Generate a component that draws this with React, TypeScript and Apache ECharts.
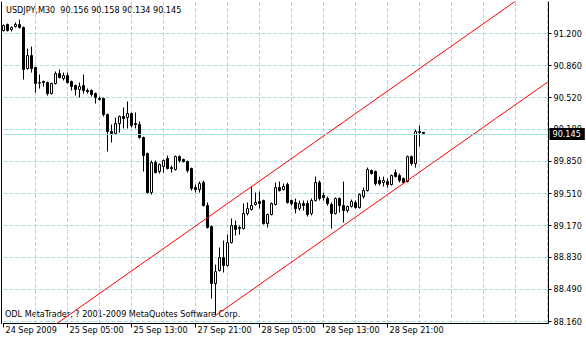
import React, { useEffect, useRef } from 'react';
import * as echarts from 'echarts';

const symbolName = 'USDJPY,M30';
const copyrightText = 'ODL MetaTrader, ? 2001-2009 MetaQuotes Software Corp.';

const barOpen = [
  91.231, 91.295, 91.242, 91.274, 91.295, 91.263, 90.830, 90.967, 90.841, 90.682,
  90.693, 90.682, 90.566, 90.672, 90.777, 90.725, 90.756, 90.693, 90.651, 90.609,
  90.651, 90.598, 90.598, 90.566, 90.514, 90.514, 90.345, 90.165, 90.144, 90.250,
  90.324, 90.313, 90.355, 90.250, 90.239, 90.102, 89.933, 89.521, 89.838, 89.743,
  89.796, 89.880, 89.785, 89.764, 89.901, 89.870, 89.849, 89.775, 89.574, 89.553,
  89.627, 89.384, 89.162, 88.561, 88.698, 88.835, 88.751, 88.993, 89.173, 89.152,
  89.141, 89.300, 89.342, 89.395, 89.426, 89.437, 89.194, 89.289, 89.395, 89.574,
  89.553, 89.606, 89.437, 89.416, 89.352, 89.405, 89.405, 89.300, 89.437, 89.627,
  89.490, 89.458, 89.395, 89.300, 89.458, 89.384, 89.331, 89.374, 89.416, 89.363,
  89.479, 89.542, 89.753, 89.743, 89.648, 89.627, 89.637, 89.606, 89.732, 89.701,
  89.669, 89.637, 89.901, 89.827, 90.165, 90.156,
];
const barHigh = [
  91.295, 91.305, 91.274, 91.316, 91.347, 91.274, 91.041, 91.062, 90.851, 90.767,
  90.704, 90.693, 90.682, 90.799, 90.820, 90.788, 90.788, 90.704, 90.661, 90.682,
  90.767, 90.619, 90.609, 90.577, 90.535, 90.524, 90.355, 90.239, 90.313, 90.334,
  90.419, 90.482, 90.366, 90.366, 90.271, 90.112, 89.944, 89.859, 89.859, 89.827,
  89.870, 89.912, 89.806, 89.912, 89.912, 89.880, 89.859, 89.785, 89.606, 89.637,
  89.648, 89.416, 89.173, 88.761, 88.941, 89.015, 89.078, 89.247, 89.226, 89.173,
  89.405, 89.416, 89.585, 89.521, 89.532, 89.447, 89.300, 89.416, 89.627, 89.637,
  89.616, 89.627, 89.447, 89.458, 89.437, 89.437, 89.437, 89.458, 89.690, 89.648,
  89.521, 89.479, 89.416, 89.469, 89.469, 89.637, 89.384, 89.447, 89.437, 89.511,
  89.574, 89.785, 89.764, 89.753, 89.690, 89.690, 89.669, 89.711, 89.764, 89.722,
  89.680, 89.912, 89.912, 90.186, 90.229, 90.158,
];
const barLow = [
  91.221, 91.221, 91.221, 91.263, 91.252, 90.714, 90.820, 90.788, 90.577, 90.619,
  90.640, 90.545, 90.556, 90.661, 90.725, 90.704, 90.672, 90.598, 90.545, 90.524,
  90.566, 90.566, 90.535, 90.461, 90.492, 90.324, 89.954, 90.049, 90.134, 90.155,
  90.197, 90.197, 90.207, 90.197, 90.091, 89.743, 89.511, 89.500, 89.722, 89.722,
  89.732, 89.764, 89.732, 89.753, 89.838, 89.838, 89.732, 89.542, 89.521, 89.521,
  89.374, 89.141, 88.402, 88.223, 88.687, 88.677, 88.740, 88.983, 89.067, 89.078,
  89.131, 89.279, 89.331, 89.384, 89.352, 89.183, 89.152, 89.279, 89.384, 89.532,
  89.542, 89.405, 89.384, 89.300, 89.331, 89.331, 89.268, 89.279, 89.426, 89.437,
  89.437, 89.384, 89.141, 89.289, 89.310, 89.205, 89.310, 89.363, 89.352, 89.352,
  89.458, 89.532, 89.711, 89.595, 89.595, 89.585, 89.574, 89.595, 89.680, 89.627,
  89.616, 89.627, 89.806, 89.785, 90.007, 90.134,
];
const barClose = [
  91.284, 91.231, 91.263, 91.295, 91.263, 90.820, 90.967, 90.830, 90.672, 90.677,
  90.682, 90.566, 90.672, 90.777, 90.735, 90.756, 90.682, 90.640, 90.609, 90.640,
  90.598, 90.587, 90.556, 90.524, 90.503, 90.345, 90.165, 90.144, 90.250, 90.324,
  90.302, 90.355, 90.229, 90.239, 90.102, 89.912, 89.521, 89.838, 89.732, 89.817,
  89.859, 89.775, 89.775, 89.901, 89.859, 89.849, 89.753, 89.564, 89.553, 89.616,
  89.384, 89.152, 88.561, 88.687, 88.835, 88.751, 88.993, 89.173, 89.131, 89.141,
  89.300, 89.352, 89.384, 89.416, 89.405, 89.194, 89.289, 89.405, 89.574, 89.542,
  89.585, 89.416, 89.405, 89.352, 89.405, 89.384, 89.289, 89.437, 89.627, 89.458,
  89.469, 89.405, 89.300, 89.458, 89.384, 89.331, 89.374, 89.426, 89.363, 89.500,
  89.542, 89.764, 89.722, 89.616, 89.616, 89.648, 89.606, 89.701, 89.690, 89.648,
  89.627, 89.901, 89.827, 90.165, 90.155, 90.145,
];

const futureBarCount = 31;
const timeLabels = ['24 Sep 2009', '25 Sep 05:00', '25 Sep 13:00', '27 Sep 21:00', '28 Sep 05:00', '28 Sep 13:00', '28 Sep 21:00'];
const timeLabelStep = 16;
const timeGridStep = 8;

const priceTicks = [88.16, 88.4978, 88.8356, 89.1733, 89.5111, 89.8489, 90.1867, 90.5244, 90.8622, 91.2];
const priceTickLabels = ['88.160', '88.490', '88.830', '89.170', '89.510', '89.850', '90.180', '90.520', '90.860', '91.200'];
const priceMin = 88.1389;
const priceMax = 91.5325;

// equidistant channel: base line anchors [barIndex, price] and parallel offset
const channelAnchors = [[53, 88.223], [100, 89.618]];
const channelWidth = 1.093;

const FONT = "'DejaVu Sans Condensed', 'DejaVu Sans', 'Liberation Sans', sans-serif";
const GRID_COLOR = '#a4e0e0';

export default function App() {
  const ref = useRef<HTMLDivElement>(null);

  useEffect(() => {
    if (!ref.current) return;
    const chart = echarts.init(ref.current, undefined, { renderer: 'svg' });
    const n = barOpen.length;
    const total = n + futureBarCount;
    const categories = Array.from({ length: total }, (_, i) => String(i));
    const candles = barOpen.map((o, i) => [o, barClose[i], barLow[i], barHigh[i]]);
    const last = n - 1;
    const fmt = (v: number) => v.toFixed(3);

    const [a1, a2] = channelAnchors;
    const slope = (a2[1] - a1[1]) / (a2[0] - a1[0]);
    const baseAt = (b: number) => a1[1] + slope * (b - a1[0]);
    const lowerLine = [[a1[0], baseAt(a1[0])], [total - 1, baseAt(total - 1)]];
    const upperLine = [[0, baseAt(0) + channelWidth], [total - 1, baseAt(total - 1) + channelWidth]];

    const header = `${symbolName}\u00a0\u00a0${fmt(barOpen[last])} ${fmt(barHigh[last])} ${fmt(barLow[last])} ${fmt(barClose[last])}`;

    chart.setOption({
      animation: false,
      backgroundColor: '#ffffff',
      textStyle: { fontFamily: FONT },
      grid: { left: 3.5, right: 38.5, top: 2, bottom: 16.5, containLabel: false },
      xAxis: {
        type: 'category',
        data: categories,
        boundaryGap: false,
        axisLine: { show: true, lineStyle: { color: '#000', width: 1 } },
        axisTick: {
          show: true,
          length: 4,
          interval: (i: number) => i % timeLabelStep === 0 && i / timeLabelStep < timeLabels.length,
          lineStyle: { color: '#000' },
        },
        axisLabel: {
          interval: 0,
          hideOverlap: false,
          align: 'left',
          margin: 2,
          padding: [0, 0, 0, 2],
          fontSize: 9,
          fontFamily: FONT,
          color: '#000',
          formatter: (_v: string, i: number) =>
            i % timeLabelStep === 0 && i / timeLabelStep < timeLabels.length ? timeLabels[i / timeLabelStep] : '',
        },
        splitLine: {
          show: true,
          interval: (i: number) => i > 0 && i % timeGridStep === 0,
          lineStyle: { color: GRID_COLOR, type: [4, 2], width: 1 },
        },
      },
      yAxis: [
        {
          type: 'value',
          position: 'right',
          offset: 1,
          min: priceMin,
          max: priceMax,
          scale: true,
          axisLine: { show: true, lineStyle: { color: '#000', width: 1 } },
          axisTick: { show: true, length: 3, customValues: priceTicks, lineStyle: { color: '#000' } },
          axisLabel: {
            customValues: priceTicks,
            margin: 5,
            fontSize: 9,
            fontFamily: FONT,
            color: '#000',
            showMinLabel: true,
            showMaxLabel: true,
            formatter: (v: number) => {
              const idx = priceTicks.findIndex((t) => Math.abs(t - v) < 1e-6);
              return idx >= 0 ? priceTickLabels[idx] : '';
            },
          },
          splitLine: { show: true, lineStyle: { color: GRID_COLOR, type: [4, 2], width: 1 } },
        },
        {
          type: 'value',
          position: 'left',
          offset: 2,
          min: priceMin,
          max: priceMax,
          axisLine: { show: true, lineStyle: { color: '#000', width: 1 } },
          axisTick: { show: false },
          axisLabel: { show: false },
          splitLine: { show: false },
        },
      ],
      series: [
        {
          type: 'candlestick',
          data: candles,
          barWidth: 2,
          clip: false,
          itemStyle: {
            color: '#ffffff',
            color0: '#000000',
            borderColor: '#000000',
            borderColor0: '#000000',
            borderColorDoji: '#000000',
            borderWidth: 1,
          },
          markLine: {
            silent: true,
            symbol: ['none', 'none'],
            animation: false,
            lineStyle: { color: GRID_COLOR, type: 'solid', width: 1 },
            label: {
              show: true,
              position: 'end',
              distance: 2,
              formatter: fmt(barClose[last]),
              backgroundColor: '#000',
              color: '#fff',
              fontSize: 9,
              fontFamily: FONT,
              padding: [2, 4, 1, 3],
            },
            data: [{ yAxis: barClose[last] }],
          },
        },
        {
          type: 'line',
          data: upperLine,
          symbol: 'none',
          silent: true,
          clip: true,
          lineStyle: { color: '#ff0000', width: 1 },
        },
        {
          type: 'line',
          data: lowerLine,
          symbol: 'none',
          silent: true,
          clip: true,
          lineStyle: { color: '#ff0000', width: 1 },
        },
      ],
      graphic: [
        {
          type: 'text',
          left: 6,
          top: 5,
          style: { text: header, fill: '#000', font: `9px ${FONT}` },
        },
        {
          type: 'text',
          left: 5,
          top: 309,
          style: { text: copyrightText, fill: '#000', font: `9px ${FONT}` },
        },
      ],
    });
    return () => chart.dispose();
  }, []);

  return (
    <div
      ref={ref}
      style={{ position: 'absolute', left: 0, top: 0, width: 586, height: 340, background: '#fff' }}
    />
  );
}
